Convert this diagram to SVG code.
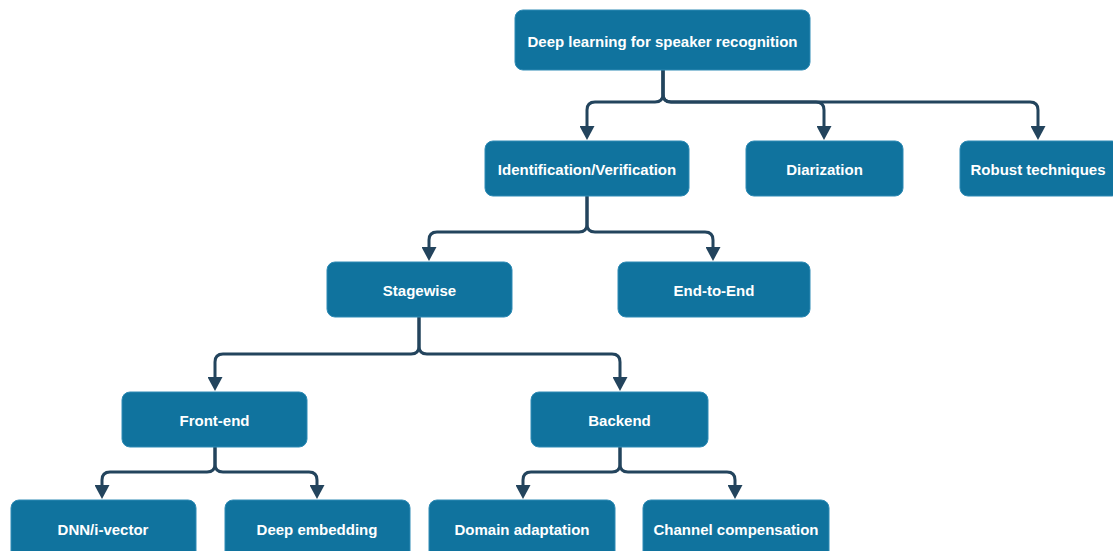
<svg xmlns="http://www.w3.org/2000/svg" width="1113" height="551" viewBox="0 0 1113 551">
<defs>
<marker id="arr" markerUnits="userSpaceOnUse" markerWidth="14" markerHeight="15" refX="0" refY="7.5" orient="auto">
<path d="M0,0 L14,7.5 L0,15 z" fill="#23445D"/>
</marker>
<style>
.n rect{fill:#10739E;stroke:#2E8BB5;stroke-width:1}
.n text{fill:#FFFFFF;font-family:"Liberation Sans",Arial,sans-serif;font-weight:bold;font-size:15px;text-anchor:middle;dominant-baseline:central}
.e path{fill:none;stroke:#23445D;stroke-width:3;marker-end:url(#arr)}
</style>
</defs>
<rect width="1113" height="551" fill="#FFFFFF"/>
<g id="connectors" class="e">
<path d="M663,70 V94 Q663,102 655,102 H595 Q587,102 587,110 V126"/>
<path d="M663,70 V94 Q663,102 671,102 H816 Q824,102 824,110 V126"/>
<path d="M663,70 V94 Q663,102 671,102 H1030 Q1038,102 1038,110 V126"/>
<path d="M587,196 V224 Q587,232 579,232 H437 Q429,232 429,240 V247"/>
<path d="M587,196 V224 Q587,232 595,232 H705 Q713,232 713,240 V247"/>
<path d="M419,317 V346 Q419,354 411,354 H223 Q215,354 215,362 V377"/>
<path d="M419,317 V346 Q419,354 427,354 H612 Q620,354 620,362 V377"/>
<path d="M215,447 V464 Q215,472 207,472 H110 Q102,472 102,480 V485"/>
<path d="M215,447 V464 Q215,472 223,472 H309 Q317,472 317,480 V485"/>
<path d="M620,447 V464 Q620,472 612,472 H531 Q523,472 523,480 V485"/>
<path d="M620,447 V464 Q620,472 628,472 H727 Q735,472 735,480 V485"/>
</g>
<g id="n-root" class="n"><rect x="515" y="10" width="295" height="60" rx="8"/><text x="662.5" y="41">Deep learning for speaker recognition</text></g>
<g id="n-idver" class="n"><rect x="485" y="141" width="204" height="55" rx="8"/><text x="587" y="169">Identification/Verification</text></g>
<g id="n-diar" class="n"><rect x="746" y="141" width="157" height="55" rx="8"/><text x="824.5" y="169">Diarization</text></g>
<g id="n-robust" class="n"><rect x="960" y="141" width="160" height="55" rx="8"/><text x="1038" y="169">Robust techniques</text></g>
<g id="n-stage" class="n"><rect x="327" y="262" width="185" height="55" rx="8"/><text x="419.5" y="290">Stagewise</text></g>
<g id="n-e2e" class="n"><rect x="618" y="262" width="192" height="55" rx="8"/><text x="714" y="290">End-to-End</text></g>
<g id="n-front" class="n"><rect x="122" y="392" width="185" height="55" rx="8"/><text x="214.5" y="420">Front-end</text></g>
<g id="n-back" class="n"><rect x="531" y="392" width="177" height="55" rx="8"/><text x="619.5" y="420">Backend</text></g>
<g id="n-dnn" class="n"><rect x="11" y="500" width="185" height="60" rx="8"/><text x="103" y="529">DNN/i-vector</text></g>
<g id="n-deep" class="n"><rect x="225" y="500" width="185" height="60" rx="8"/><text x="317" y="529">Deep embedding</text></g>
<g id="n-domain" class="n"><rect x="429" y="500" width="186" height="60" rx="8"/><text x="522" y="529">Domain adaptation</text></g>
<g id="n-channel" class="n"><rect x="643" y="500" width="186" height="60" rx="8"/><text x="736" y="529">Channel compensation</text></g>
</svg>
